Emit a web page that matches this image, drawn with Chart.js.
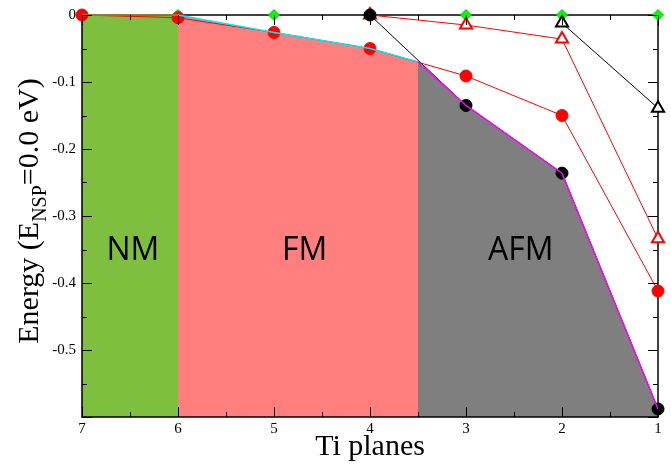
<!DOCTYPE html>
<html><head><meta charset="utf-8">
<script src="https://cdn.jsdelivr.net/npm/chart.js@4"></script>
<style>html,body{margin:0;padding:0;background:#fff}</style>
</head><body>
<canvas id="c" width="671" height="465" style="display:block;width:671px;height:465px"></canvas>
<script>
// ---- data ----
const planes = [7, 6, 5, 4, 3, 2, 1];
const nspEnergy = [0, 0, 0, 0, 0, 0, 0];
const fmCircleEnergy = [0, -0.004, -0.026, -0.05, -0.091, -0.15, -0.412];
const afmCirclePlanes = [4, 3, 2, 1];
const afmCircleEnergy = [0, -0.135, -0.236, -0.588];
const fmTrianglePlanes = [4, 3, 2, 1];
const fmTriangleEnergy = [0, -0.015, -0.036, -0.334];
const afmTrianglePlanes = [2, 1];
const afmTriangleEnergy = [-0.012, -0.139];
const nmRegionPlanes = [7, 6];
const nmRegionTop = [0, 0];
const fmRegionPlanes = [6, 5, 4, 3.5];
const fmRegionTop = [0, -0.026, -0.05, -0.07];
const afmRegionPlanes = [3.5, 3, 2, 1];
const afmRegionTop = [-0.07, -0.135, -0.236, -0.588];
const xTickValues = [7, 6, 5, 4, 3, 2, 1];
const yTickValues = [0, -0.1, -0.2, -0.3, -0.4, -0.5, -0.6];
const regionNames = ['NM', 'FM', 'AFM'];
const regionLabelPlanes = [6.47, 4.68, 2.43];
const regionLabelEnergy = -0.352;

const pts = (xs, ys) => xs.map((x, i) => ({ x: x, y: ys[i] }));

function drawTicks(chart) {
  const { ctx, chartArea: a, scales: { x, y } } = chart;
  ctx.save();
  ctx.strokeStyle = '#000';
  ctx.lineWidth = 1;
  ctx.beginPath();
  for (let k = 0; k <= 12; k++) {
    const v = 1 + k * 0.5;
    const len = (k % 2 === 0) ? 10 : 5;
    const px = Math.round(x.getPixelForValue(v)) + 0.5;
    ctx.moveTo(px, a.bottom); ctx.lineTo(px, a.bottom - len);
    ctx.moveTo(px, a.top); ctx.lineTo(px, a.top + len);
  }
  for (let k = 0; k <= 12; k++) {
    const v = -k * 0.05;
    const len = (k % 2 === 0) ? 10 : 5;
    const py = Math.round(y.getPixelForValue(v)) + 0.5;
    ctx.moveTo(a.left, py); ctx.lineTo(a.left + len, py);
    ctx.moveTo(a.right, py); ctx.lineTo(a.right - len, py);
  }
  ctx.stroke();
  ctx.restore();
}

const frame = {
  id: 'frame',
  beforeDatasetsDraw(chart) {
    const { ctx, chartArea: a } = chart;
    ctx.save();
    ctx.strokeStyle = '#000';
    ctx.lineWidth = 1.5;
    ctx.strokeRect(a.left, a.top, a.right - a.left, a.bottom - a.top);
    ctx.restore();
  },
  afterDatasetsDraw(chart) {
    drawTicks(chart);
  },
  afterDraw(chart) {
    const { ctx, chartArea: a, scales: { x, y } } = chart;
    ctx.save();
    ctx.fillStyle = '#000';
    ctx.font = '32px "Open Sans"';
    ctx.textAlign = 'center';
    ctx.textBaseline = 'middle';
    regionNames.forEach((n, i) => {
      ctx.fillText(n, x.getPixelForValue(regionLabelPlanes[i]), y.getPixelForValue(regionLabelEnergy));
    });
    ctx.font = '30px "Liberation Serif"';
    ctx.textBaseline = 'alphabetic';
    ctx.fillText('Ti planes', (a.left + a.right) / 2, 455);
    const big = '30px "Liberation Serif"', small = '20px "Liberation Serif"';
    const t1 = 'Energy (E', t2 = 'NSP', t3 = '=0.0 eV)';
    ctx.font = big; const w1 = ctx.measureText(t1).width, w3 = ctx.measureText(t3).width;
    ctx.font = small; const w2 = ctx.measureText(t2).width;
    const total = w1 + w2 + w3;
    ctx.translate(38, 211);
    ctx.rotate(-Math.PI / 2);
    ctx.textAlign = 'left';
    let sx = -total / 2;
    ctx.font = big; ctx.fillText(t1, sx, 0); sx += w1;
    ctx.font = small; ctx.fillText(t2, sx, 8); sx += w2;
    ctx.font = big; ctx.fillText(t3, sx, 0);
    ctx.restore();
  }
};

const tickFont = { family: 'Liberation Serif', size: 15 };

new Chart(document.getElementById('c'), {
  type: 'scatter',
  data: {
    datasets: [
      { data: pts(nmRegionPlanes, nmRegionTop), order: 0, showLine: true, fill: 'start',
        backgroundColor: '#7fbf3f', borderColor: '#a8902c', borderWidth: 1.5, pointRadius: 0 },
      { data: pts(fmRegionPlanes, fmRegionTop), order: 0, showLine: true, fill: 'start',
        backgroundColor: '#ff7f7f', borderColor: '#00e8f0', borderWidth: 1.5, pointRadius: 0 },
      { data: pts(afmRegionPlanes, afmRegionTop), order: 0, showLine: true, fill: 'start',
        backgroundColor: '#7f7f7f', borderColor: '#ff00ff', borderWidth: 1.5, pointRadius: 0 },
      { data: pts(afmTrianglePlanes, afmTriangleEnergy), order: 1, showLine: true,
        borderColor: '#000', borderWidth: 1, pointStyle: 'triangle', pointRadius: 7,
        pointBackgroundColor: '#fff', pointBorderColor: '#000', pointBorderWidth: 2 },
      { data: pts(afmCirclePlanes, afmCircleEnergy), order: 1, showLine: true,
        borderColor: '#000', borderWidth: 1, pointStyle: 'circle', pointRadius: 6,
        pointBackgroundColor: '#000', pointBorderColor: '#000', pointBorderWidth: 1 },
      { data: pts(planes, fmCircleEnergy), order: 1, showLine: true,
        borderColor: '#ff0000', borderWidth: 1, pointStyle: 'circle', pointRadius: 6,
        pointBackgroundColor: '#ff0000', pointBorderColor: '#ff0000', pointBorderWidth: 1 },
      { data: pts(fmTrianglePlanes, fmTriangleEnergy), order: 1, showLine: true,
        borderColor: '#ff0000', borderWidth: 1, pointStyle: 'triangle', pointRadius: 7,
        pointBackgroundColor: '#fff', pointBorderColor: '#ff0000', pointBorderWidth: 2 },
      { data: pts(planes, nspEnergy), order: 1, showLine: false,
        pointStyle: 'rectRot', pointRadius: 5.5,
        pointBackgroundColor: '#00ff00', pointBorderColor: '#00d000', pointBorderWidth: 1 }
    ]
  },
  options: {
    responsive: false,
    animation: false,
    clip: false,
    layout: { padding: { top: 14, right: 13, left: 0, bottom: 0 } },
    plugins: {
      legend: { display: false },
      tooltip: { enabled: false },
      filler: { drawTime: 'beforeDatasetsDraw' }
    },
    scales: {
      x: {
        type: 'linear', reverse: true, min: 1, max: 7,
        afterBuildTicks: s => { s.ticks = xTickValues.map(v => ({ value: v })); },
        afterFit: s => { s.height = 48; },
        grid: { display: false, drawTicks: false },
        border: { display: false },
        ticks: { font: tickFont, color: '#000', padding: 3, maxRotation: 0,
          callback: v => String(v) }
      },
      y: {
        type: 'linear', min: -0.6, max: 0,
        afterBuildTicks: s => { s.ticks = yTickValues.map(v => ({ value: v })); },
        afterFit: s => { s.width = 82; },
        grid: { display: false, drawTicks: false },
        border: { display: false },
        ticks: { font: tickFont, color: '#000', padding: 6,
          callback: v => (Math.abs(v + 0.6) < 1e-9 ? '' : (v === 0 ? '0' : v.toFixed(1))) }
      }
    }
  },
  plugins: [frame]
});
</script>
</body></html>
